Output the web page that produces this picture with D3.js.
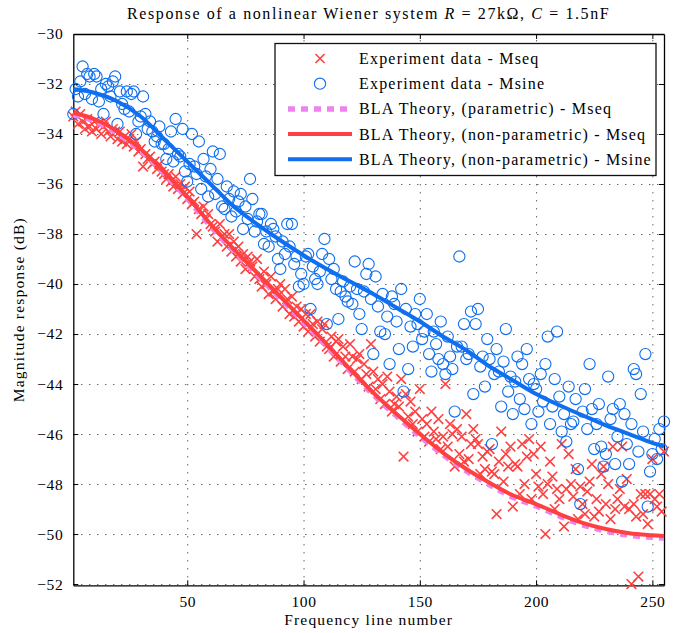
<!DOCTYPE html>
<html lang="en">
<head>
<meta charset="utf-8">
<title>BLA of a nonlinear Wiener system</title>
<script src="https://d3js.org/d3.v7.min.js"></script>
<style>
  body { margin: 0; background: #fff; }
  svg text { font-family: "Liberation Serif", "Times New Roman", serif; fill: #000; }
  .grid line { stroke: #222; stroke-width: 1; stroke-dasharray: 1, 7; }
  .grid path { display: none; }
  .frame path { stroke: #000; stroke-width: 1.3; }
  .frame line { stroke: #000; stroke-width: 1; }
  .wide { letter-spacing: 1.2px; }
</style>
</head>
<body>
<script>
// measured magnitude (dB), one value per frequency line 1..255
var mseqMag = [
  -33.3, -33.1, -33.6, -33.2, -33.5, -33.8, -33.4, -33.7, -33.9, -33.5,
  -33.8, -33.6, -34.0, -33.7, -33.5, -33.9, -34.1, -33.8, -33.9, -34.2,
  -33.9, -34.3, -34.1, -34.4, -34.2, -34.0, -34.5, -34.3, -34.7, -34.6,
  -35.3, -34.8, -35.0, -34.9, -35.2, -35.1, -35.4, -35.2, -35.5, -35.6,
  -35.8, -35.6, -35.9, -36.1, -35.7, -36.2, -36.0, -36.4, -36.1, -36.6,
  -36.3, -36.8, -36.7, -38.0, -37.0, -37.2, -36.9, -37.4, -37.2, -37.6,
  -37.7, -37.9, -38.3, -37.6, -38.1, -38.0, -38.5, -38.0, -38.7, -38.3,
  -38.9, -38.5, -39.1, -38.8, -39.4, -38.9, -39.1, -39.3, -39.7, -39.0,
  -39.8, -40.1, -39.5, -40.0, -40.4, -39.7, -40.3, -40.6, -40.2, -40.0,
  -40.9, -40.2, -40.6, -41.2, -40.5, -41.3, -40.9, -41.5, -41.0, -41.7,
  -41.2, -41.9, -41.2, -41.6, -42.1, -41.5, -42.3, -41.8, -41.6, -42.5,
  -42.6, -42.1, -42.9, -42.3, -42.2, -43.1, -42.5, -42.9, -43.4, -42.4,
  -42.9, -43.5, -43.0, -42.8, -43.8, -43.2, -43.6, -44.1, -42.4, -43.5,
  -44.2, -43.8, -44.6, -44.0, -44.8, -43.7, -44.3, -45.1, -44.8, -44.5,
  -44.9, -43.8, -46.9, -44.4, -45.3, -44.7, -45.6, -45.1, -45.9, -44.2,
  -45.4, -46.1, -45.6, -46.3, -45.1, -45.9, -46.2, -45.4, -46.6, -46.1,
  -44.0, -46.5, -45.6, -46.0, -47.3, -45.8, -46.8, -46.1, -47.1, -45.2,
  -47.0, -46.4, -45.8, -46.2, -46.4, -47.6, -46.9, -47.4, -46.7, -46.6,
  -47.5, -47.6, -49.2, -47.1, -45.9, -47.9, -46.8, -47.3, -46.5, -48.9,
  -47.2, -47.3, -48.4, -46.4, -48.0, -46.9, -46.2, -48.6, -46.8, -47.6,
  -48.1, -46.5, -48.4, -50.0, -48.0, -47.1, -47.7, -49.0, -48.2, -48.6,
  -46.4, -49.7, -48.2, -46.8, -48.0, -48.5, -47.4, -49.4, -48.1, -48.8,
  -49.2, -48.3, -47.9, -47.2, -49.3, -48.6, -49.1, -47.6, -47.3, -48.8,
  -48.0, -49.4, -46.5, -49.0, -48.6, -48.2, -46.5, -48.9, -47.8, -49.0,
  -52.0, -48.8, -49.3, -51.7, -48.4, -49.2, -48.4, -49.6, -48.4, -47.0,
  -48.6, -48.9, -48.4, -49.1, -46.7
];

var msineMag = [
  -33.2, -32.2, -32.5, -31.9, -31.3, -32.4, -31.6, -31.7, -32.6, -31.6,
  -31.7, -32.7, -32.2, -33.2, -32.0, -32.1, -32.5, -31.9, -31.7, -33.6,
  -32.3, -32.8, -33.0, -32.3, -33.1, -32.4, -32.3, -34.0, -33.5, -33.3,
  -32.5, -33.2, -33.8, -33.5, -33.9, -34.3, -34.1, -33.7, -34.4, -34.4,
  -35.0, -34.6, -33.9, -35.1, -33.4, -34.8, -34.9, -33.8, -35.5, -35.9,
  -35.2, -34.0, -35.3, -35.6, -34.3, -36.2, -35.0, -35.7, -36.5, -35.4,
  -34.7, -36.4, -35.8, -34.8, -36.9, -37.0, -36.1, -36.6, -37.3, -36.3,
  -37.1, -36.7, -36.4, -37.8, -36.9, -37.4, -35.8, -36.6, -37.9, -37.5,
  -37.2, -37.2, -38.4, -37.9, -38.5, -37.6, -37.8, -38.1, -39.0, -39.4,
  -38.3, -38.8, -37.6, -38.5, -37.6, -39.2, -38.9, -40.1, -39.6, -40.0,
  -38.9, -38.8, -41.0, -39.3, -39.8, -40.0, -39.5, -38.8, -38.2, -41.6,
  -39.0, -39.8, -39.4, -40.2, -41.4, -40.3, -39.9, -40.5, -40.7, -40.1,
  -40.8, -39.1, -40.2, -41.2, -41.8, -40.3, -39.6, -39.2, -40.6, -42.8,
  -39.7, -40.9, -41.9, -40.4, -42.0, -41.3, -43.2, -40.5, -40.8, -41.5,
  -42.6, -40.2, -44.3, -41.0, -43.4, -41.7, -42.5, -41.2, -41.6, -40.6,
  -42.2, -41.9, -41.2, -42.8, -43.5, -41.9, -42.4, -43.0, -41.5, -43.2,
  -43.6, -42.1, -42.9, -43.4, -45.1, -42.5, -38.9, -42.5, -41.6, -43.0,
  -42.8, -41.1, -44.4, -41.6, -41.0, -43.3, -42.9, -44.1, -42.2, -43.0,
  -46.4, -43.6, -42.6, -43.5, -44.9, -43.1, -41.8, -44.3, -43.7, -45.2,
  -43.9, -42.9, -44.6, -43.2, -45.0, -42.6, -43.8, -45.6, -44.0, -44.2,
  -45.1, -43.6, -44.7, -43.2, -42.1, -45.6, -44.9, -43.8, -41.9, -44.5,
  -45.9, -45.2, -46.3, -44.1, -45.6, -45.5, -44.6, -47.4, -48.8, -45.1,
  -44.2, -45.8, -43.2, -45.0, -46.6, -45.6, -44.8, -46.5, -47.3, -46.8,
  -43.7, -45.4, -45.0, -47.2, -46.1, -44.8, -47.9, -45.2, -46.4, -47.2,
  -45.6, -43.4, -43.6, -46.7, -44.4, -45.9, -42.8, -48.9, -47.5, -46.8,
  -46.2, -47.0, -45.8, -46.6, -45.5
];

// theoretical BLA, read at these frequency lines
var theoryFreq = [1, 10, 20, 30, 40, 50, 60, 70, 80, 90, 100, 110, 120, 130, 140, 150, 160, 170, 180, 190, 200, 210, 220, 230, 240, 250, 255];
var blaMseqParam = [-33.23, -33.48, -33.98, -34.68, -35.58, -36.58, -37.68, -38.68, -39.63, -40.58, -41.53, -42.48, -43.48, -44.43, -45.28, -46.08, -46.83, -47.48, -48.03, -48.53, -48.88, -49.28, -49.63, -49.88, -50.05, -50.13, -50.16];
var blaMseq = [-33.15, -33.4, -33.9, -34.6, -35.5, -36.5, -37.6, -38.6, -39.55, -40.5, -41.45, -42.4, -43.4, -44.35, -45.2, -46.0, -46.75, -47.4, -47.95, -48.45, -48.8, -49.2, -49.55, -49.8, -49.97, -50.05, -50.08];
var blaMsine = [-32.2, -32.35, -32.7, -33.3, -34.2, -35.1, -36.0, -36.9, -37.6, -38.25, -38.85, -39.4, -39.9, -40.4, -40.95, -41.5, -42.1, -42.65, -43.3, -43.85, -44.4, -44.85, -45.25, -45.65, -46.0, -46.35, -46.5];

var xTicks = [50, 100, 150, 200, 250];
var yTicks = [-30, -32, -34, -36, -38, -40, -42, -44, -46, -48, -50, -52];

var legendItems = [
  {label: "Experiment data - Mseq", kind: "cross"},
  {label: "Experiment data - Msine", kind: "circle"},
  {label: "BLA Theory, (parametric) - Mseq", kind: "dash"},
  {label: "BLA Theory, (non-parametric) - Mseq", kind: "red"},
  {label: "BLA Theory, (non-parametric) - Msine", kind: "blue"}
];

var red = "#ff4040", blue = "#0f6fef", pink = "#ee82ee";

var W = 680, H = 633;
var pL = 73.3, pR = 664, pT = 34, pB = 585.3;

var svg = d3.select("body").append("svg")
  .attr("width", W).attr("height", H);

var x = d3.scaleLinear().domain([1, 255]).range([pL, pR]);
var y = d3.scaleLinear().domain([-52.05, -30]).range([pB, pT]);

// dotted grid
svg.append("g").attr("class", "grid")
  .attr("transform", "translate(0," + pB + ")")
  .call(d3.axisBottom(x).tickValues(xTicks).tickSize(-(pB - pT)).tickFormat(""));
svg.append("g").attr("class", "grid")
  .attr("transform", "translate(" + pL + ",0)")
  .call(d3.axisLeft(y).tickValues(yTicks.slice(1)).tickSize(-(pR - pL)).tickFormat(""));

// frame with inward ticks
var fmt = d3.format("d");
svg.append("g").attr("class", "frame")
  .attr("transform", "translate(0," + pB + ")")
  .call(d3.axisBottom(x).tickValues(xTicks).tickSize(-5).tickSizeOuter(0).tickPadding(11).tickFormat(fmt));
svg.append("g").attr("class", "frame")
  .attr("transform", "translate(" + pL + ",0)")
  .call(d3.axisLeft(y).tickValues(yTicks).tickSize(-5).tickSizeOuter(0).tickPadding(10).tickFormat(fmt));
svg.append("g").attr("class", "frame")
  .attr("transform", "translate(0," + pT + ")")
  .call(d3.axisTop(x).tickValues(xTicks).tickSize(-5).tickSizeOuter(0).tickFormat(""));
svg.append("g").attr("class", "frame")
  .attr("transform", "translate(" + pR + ",0)")
  .call(d3.axisRight(y).tickValues(yTicks).tickSize(-5).tickSizeOuter(0).tickFormat(""));
svg.selectAll(".frame text")
  .style("font-size", "15.5px")
  .style("font-family", "'Liberation Serif', serif")
  .style("letter-spacing", "0.6px");

// Mseq crosses
var cs = 4.8;
svg.append("g").selectAll("path")
  .data(mseqMag)
  .enter()
  .append("path")
  .attr("transform", function (d, i) { return "translate(" + x(i + 1) + "," + y(d) + ")"; })
  .attr("d", "M" + (-cs) + "," + (-cs) + "L" + cs + "," + cs + "M" + (-cs) + "," + cs + "L" + cs + "," + (-cs))
  .attr("stroke", red)
  .attr("stroke-width", 1.6)
  .attr("fill", "none");

// Msine circles
svg.append("g").selectAll("circle")
  .data(msineMag)
  .enter()
  .append("circle")
  .attr("cx", function (d, i) { return x(i + 1); })
  .attr("cy", function (d) { return y(d); })
  .attr("r", 5.6)
  .attr("fill", "none")
  .attr("stroke", blue)
  .attr("stroke-width", 1.1);

// theory curves
function curve(values) {
  return d3.line()
    .x(function (d, i) { return x(theoryFreq[i]); })
    .y(function (d) { return y(d); })
    .curve(d3.curveMonotoneX)(values);
}
svg.append("path").attr("d", curve(blaMseqParam))
  .attr("fill", "none").attr("stroke", pink).attr("stroke-width", 5.5).attr("stroke-dasharray", "7,6");
svg.append("path").attr("d", curve(blaMseq))
  .attr("fill", "none").attr("stroke", red).attr("stroke-width", 4);
svg.append("path").attr("d", curve(blaMsine))
  .attr("fill", "none").attr("stroke", blue).attr("stroke-width", 4);

// legend
var lg = svg.append("g");
lg.append("rect")
  .attr("x", 275).attr("y", 43.5).attr("width", 381).attr("height", 132)
  .attr("fill", "#fff").attr("stroke", "#111").attr("stroke-width", 1.3);
var row = lg.selectAll("g.item").data(legendItems).enter().append("g")
  .attr("class", "item")
  .attr("transform", function (d, i) { return "translate(0," + (58.5 + i * 25.2) + ")"; });
row.each(function (d) {
  var g = d3.select(this);
  if (d.kind === "cross") {
    g.append("path").attr("d", "M315.5,-4.5L324.5,4.5M315.5,4.5L324.5,-4.5").attr("stroke", red).attr("stroke-width", 1.6);
  } else if (d.kind === "circle") {
    g.append("circle").attr("cx", 320).attr("cy", 0).attr("r", 5.6).attr("fill", "none").attr("stroke", blue).attr("stroke-width", 1.1);
  } else {
    var col = d.kind === "dash" ? pink : (d.kind === "red" ? red : blue);
    var l = g.append("line").attr("x1", 288).attr("x2", 352).attr("y1", 0).attr("y2", 0)
      .attr("stroke", col).attr("stroke-width", d.kind === "dash" ? 5.5 : 4);
    if (d.kind === "dash") l.attr("stroke-dasharray", "7,6");
  }
  g.append("text").attr("class", "wide").attr("x", 359).attr("y", 5.5)
    .style("font-size", "16px").text(d.label);
});

// title and axis labels
var title = svg.append("text")
  .attr("x", (pL + pR) / 2).attr("y", 19)
  .attr("text-anchor", "middle")
  .style("font-size", "16px")
  .style("letter-spacing", "1.6px");
title.append("tspan").text("Response of a nonlinear Wiener system ");
title.append("tspan").style("font-style", "italic").text("R");
title.append("tspan").text(" = 27kΩ, ");
title.append("tspan").style("font-style", "italic").text("C");
title.append("tspan").text(" = 1.5nF");

svg.append("text")
  .attr("class", "wide")
  .attr("x", (pL + pR) / 2).attr("y", 625)
  .attr("text-anchor", "middle").style("font-size", "15.5px")
  .text("Frequency line number");

svg.append("text")
  .attr("class", "wide")
  .attr("text-anchor", "middle")
  .attr("transform", "translate(24," + ((pT + pB) / 2) + ")rotate(-90)")
  .style("font-size", "15.5px")
  .text("Magnitude response (dB)");
</script>
</body>
</html>
